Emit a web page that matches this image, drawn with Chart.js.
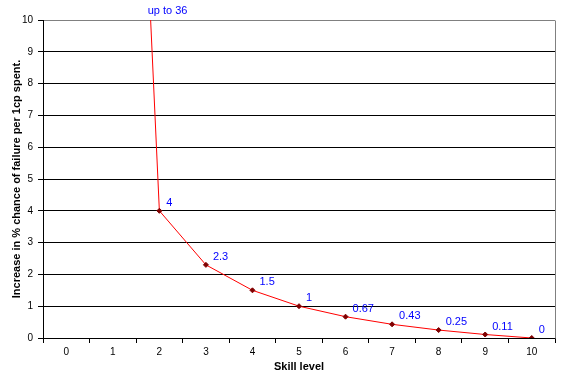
<!DOCTYPE html>
<html>
<head>
<meta charset="utf-8">
<script src="https://cdn.jsdelivr.net/npm/chart.js@4.4.0/dist/chart.umd.min.js"></script>
<style>
html,body{margin:0;padding:0;background:#fff;}
#wrap{width:572px;height:380px;}
</style>
</head>
<body>
<div id="wrap"><canvas id="c" width="572" height="380"></canvas></div>
<script>
const categories = ["0","1","2","3","4","5","6","7","8","9","10"];
const values = [null, 36, 4, 2.3, 1.5, 1, 0.67, 0.43, 0.25, 0.11, 0];
const pointLabels = ["", "up to 36", "4", "2.3", "1.5", "1", "0.67", "0.43", "0.25", "0.11", "0"];
const yTicks = [0,1,2,3,4,5,6,7,8,9,10];

const FONT = "'Liberation Sans', Arial, sans-serif";

const labelPlugin = {
  id: 'labels',
  afterDatasetsDraw(chart) {
    const ctx = chart.ctx;
    const meta = chart.getDatasetMeta(0);
    const area = chart.chartArea;
    const yMax = chart.scales.y.max;
    ctx.save();
    ctx.font = "11px " + FONT;
    ctx.fillStyle = "#0000ff";
    ctx.textBaseline = "middle";
    ctx.textAlign = "left";
    meta.data.forEach((pt, i) => {
      const v = values[i];
      if (v === null || v === undefined) return;
      if (v > yMax) {
        const nxt = meta.data[i + 1];
        let cx = pt.x;
        if (nxt) {
          const f = (area.top - pt.y) / (nxt.y - pt.y);
          cx = pt.x + f * (nxt.x - pt.x);
        }
        ctx.fillText(pointLabels[i], cx - 3, area.top - 9);
      } else {
        ctx.fillText(pointLabels[i], pt.x + 7, pt.y - 8);
      }
    });
    // plot border (right) in gray
    ctx.strokeStyle = "#808080";
    ctx.lineWidth = 1;
    ctx.beginPath();
    ctx.moveTo(Math.round(area.right) + 0.5, Math.round(area.top) + 0.5);
    ctx.lineTo(Math.round(area.right) + 0.5, Math.round(area.bottom) + 0.5);
    ctx.stroke();
    ctx.restore();
  }
};

const bgPlugin = {
  id: 'bg',
  beforeDraw(chart) {
    const ctx = chart.ctx;
    ctx.save();
    ctx.fillStyle = "#fff";
    ctx.fillRect(0, 0, chart.width, chart.height);
    ctx.restore();
  }
};

new Chart(document.getElementById('c'), {
  type: 'line',
  data: {
    labels: categories,
    datasets: [{
      data: values,
      borderColor: '#ff0000',
      borderWidth: 1,
      tension: 0,
      pointStyle: 'rectRot',
      pointRadius: 2.5,
      pointBackgroundColor: '#800000',
      pointBorderColor: '#800000',
      pointBorderWidth: 1,
      spanGaps: false
    }]
  },
  options: {
    responsive: false,
    animation: false,
    devicePixelRatio: 1,
    layout: { padding: { left: 0, top: 20, right: 17, bottom: 0 } },
    plugins: { legend: { display: false }, tooltip: { enabled: false } },
    scales: {
      x: {
        type: 'category',
        offset: true,
        grid: { offset: true, drawOnChartArea: false, drawTicks: true, tickLength: 5, color: '#000', tickColor: '#000' },
        border: { color: '#000', width: 1 },
        ticks: { color: '#000', font: { family: FONT, size: 10 }, padding: 3, maxRotation: 0, autoSkip: false },
        title: { display: true, text: 'Skill level', color: '#000', font: { family: FONT, size: 11, weight: 'bold' }, padding: { top: 0, bottom: 6 } },
        afterFit(scale) { scale.height = 42; }
      },
      y: {
        min: 0, max: 10,
        afterBuildTicks(scale) { scale.ticks = yTicks.map(v => ({ value: v })); },
        grid: {
          color: ctx => (ctx.tick && ctx.tick.value === 10) ? '#808080' : '#000',
          tickColor: '#000',
          tickLength: 5,
          drawTicks: true
        },
        border: { color: '#000', width: 1 },
        ticks: { color: '#000', font: { family: FONT, size: 10 }, padding: 5 },
        title: { display: true, text: 'Increase in % chance of failure per 1cp spent.', color: '#000', font: { family: FONT, size: 11, weight: 'bold' }, padding: { top: 10, bottom: 0 } },
        afterFit(scale) { scale.width = 43; }
      }
    }
  },
  plugins: [bgPlugin, labelPlugin]
});
</script>
</body>
</html>
